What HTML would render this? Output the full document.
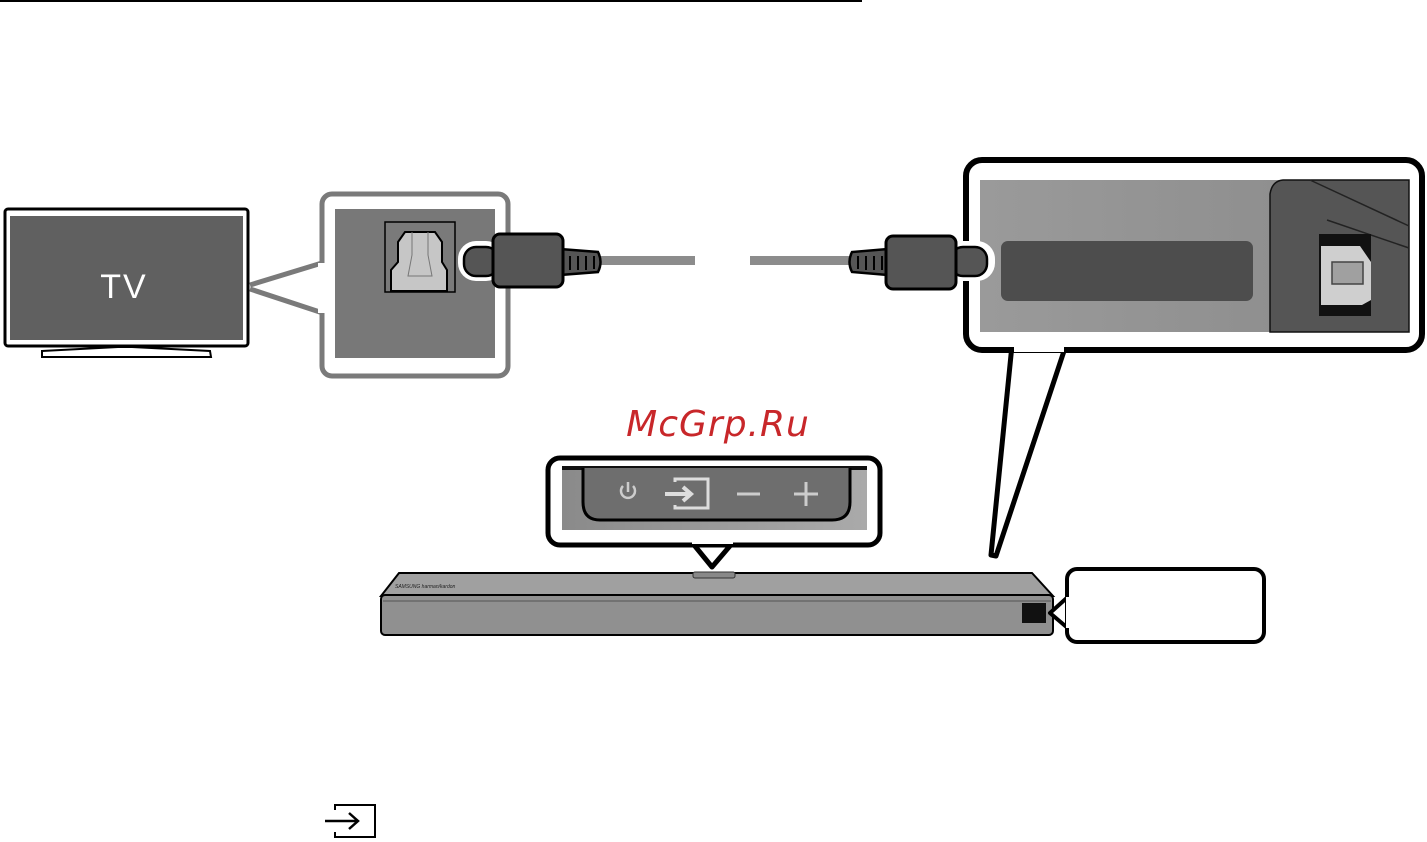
<!DOCTYPE html>
<html><head><meta charset="utf-8"><style>
html,body{margin:0;padding:0;background:#fff;}
svg{display:block;}
</style></head><body>
<svg width="1427" height="842" viewBox="0 0 1427 842" xmlns="http://www.w3.org/2000/svg">
<defs>
<linearGradient id="g2" x1="0" x2="1" y1="0" y2="0">
<stop offset="0" stop-color="#9a9a9a"/><stop offset="1" stop-color="#8a8a8a"/></linearGradient>
<linearGradient id="g3" x1="0" x2="1"><stop offset="0" stop-color="#8a8a8a"/><stop offset="1" stop-color="#aaaaaa"/></linearGradient>
</defs>
<line x1="0" y1="1" x2="862" y2="1" stroke="#000" stroke-width="2"/>

<!-- TV -->
<rect x="5" y="209" width="243" height="137" rx="3" fill="#fff" stroke="#000" stroke-width="3"/>
<rect x="10" y="216" width="233" height="124" fill="#606060"/>
<path d="M42,351 L118,347 L132,347 L210,351 L211,357 L42,357 Z" fill="#fff" stroke="#000" stroke-width="2"/>
<text x="124" y="298" text-anchor="middle" font-family="Liberation Sans, sans-serif" font-size="34" fill="#fff" letter-spacing="2">TV</text>

<!-- callout 1 -->
<path d="M250,287 L335,260 L335,316 Z" fill="#fff"/>
<path d="M250,285 L335,259 M250,289 L335,317" stroke="#7a7a7a" stroke-width="5"/>
<rect x="322" y="194" width="186" height="182" rx="10" fill="#fff" stroke="#7a7a7a" stroke-width="5"/>
<rect x="318" y="263" width="10" height="50" fill="#fff"/>
<rect x="335" y="209" width="160" height="149" fill="#787878"/>
<rect x="385" y="222" width="70" height="70" fill="#7a7a7a" stroke="#000" stroke-width="1.5"/>
<path d="M398,242 L405,232 L435,232 L442,242 L442,262 L447,270 L447,291 L391,291 L391,270 L398,262 Z" fill="#c6c6c6" stroke="#000" stroke-width="2"/>
<path d="M412,232 L412,255 L408,276 L432,276 L428,255 L428,232" fill="none" stroke="#777" stroke-width="1"/>

<!-- left plug -->
<rect x="600" y="256" width="95" height="9" fill="#8c8c8c"/>
<rect x="458" y="241" width="46" height="40" rx="18" fill="#fff"/>
<rect x="464" y="247" width="34" height="29" rx="12" fill="#555" stroke="#000" stroke-width="2.5"/>
<path d="M560,249 L598,252 Q603,262 598,272 L560,275 Z" fill="#555" stroke="#000" stroke-width="2.5"/>
<path d="M570,256 v14 M578,256 v14 M586,256 v14 M594,256 v13" stroke="#000" stroke-width="2"/>
<rect x="493" y="234" width="70" height="53" rx="7" fill="#555" stroke="#000" stroke-width="3"/>

<!-- right callout -->
<path d="M1012,345 L991,555 L996,556 L1066,345 Z" fill="#fff" stroke="#000" stroke-width="5" stroke-linejoin="round"/>
<rect x="966" y="160" width="456" height="190" rx="16" fill="#fff" stroke="#000" stroke-width="6"/>
<rect x="1014" y="340" width="50" height="12" fill="#fff"/>
<rect x="980" y="180" width="429" height="152" fill="url(#g2)"/>
<rect x="1001" y="241" width="252" height="60" rx="7" fill="#4d4d4d"/>
<path d="M1283,180 L1409,180 L1409,332 L1270,332 L1270,194 Q1272,181 1283,180 Z" fill="#555" stroke="#111" stroke-width="1.5"/>
<path d="M1310,180 L1409,226" stroke="#222" stroke-width="1.5"/>
<path d="M1327,220 L1409,248" stroke="#222" stroke-width="1.5"/>
<rect x="1319" y="234" width="52" height="82" fill="#111"/>
<path d="M1321,246 L1360,246 L1371,262 L1371,300 L1362,305 L1321,305 Z" fill="#cfcfcf"/>
<rect x="1332" y="262" width="31" height="22" fill="#a0a0a0" stroke="#444" stroke-width="1.5"/>

<!-- right plug -->
<rect x="750" y="256" width="100" height="9" fill="#8c8c8c"/>
<rect x="945" y="241" width="50" height="40" rx="18" fill="#fff"/>
<rect x="951" y="247" width="36" height="29" rx="12" fill="#555" stroke="#000" stroke-width="2.5"/>
<path d="M888,249 L852,252 Q847,262 852,272 L888,275 Z" fill="#555" stroke="#000" stroke-width="2.5"/>
<path d="M858,256 v13 M866,256 v14 M874,256 v14 M882,256 v14" stroke="#000" stroke-width="2"/>
<rect x="886" y="236" width="70" height="53" rx="7" fill="#555" stroke="#000" stroke-width="3"/>

<!-- watermark -->
<text x="718" y="436" text-anchor="middle" font-family="DejaVu Sans, Liberation Sans, sans-serif" font-style="italic" font-size="36" fill="#c8272a" letter-spacing="1">McGrp.Ru</text>

<!-- callout 3 -->
<path d="M690,540 L712,567 L735,540 Z" fill="#fff" stroke="#000" stroke-width="5" stroke-linejoin="round"/>
<rect x="548" y="458" width="332" height="87" rx="12" fill="#fff" stroke="#000" stroke-width="5"/>
<rect x="692" y="538" width="41" height="6" fill="#fff"/>
<rect x="562" y="466" width="305" height="64" fill="url(#g3)"/>
<rect x="562" y="466" width="305" height="4" fill="#111"/>
<path d="M583,468 L583,502 Q583,520 600,520 L832,520 Q850,520 850,502 L850,468" fill="#6e6e6e" stroke="#000" stroke-width="3"/>
<path d="M623,486 A7,7 0 1 0 633,486" fill="none" stroke="#ccc" stroke-width="2.5"/>
<line x1="628" y1="482" x2="628" y2="492" stroke="#ccc" stroke-width="2.5"/>
<path d="M675,482 L675,479 L708,479 L708,508 L675,508 L675,505" fill="none" stroke="#ddd" stroke-width="3"/>
<path d="M665,494 L690,494 M683,487 L691,494 L683,501" fill="none" stroke="#ddd" stroke-width="4"/>
<line x1="737" y1="494" x2="760" y2="494" stroke="#ccc" stroke-width="3"/>
<path d="M794,494 L818,494 M806,482 L806,506" stroke="#ccc" stroke-width="3"/>

<!-- soundbar -->
<path d="M381,596 L399,573 L1032,573 L1053,596 Z" fill="#a0a0a0" stroke="#000" stroke-width="2"/>
<rect x="381" y="595" width="672" height="40" rx="4" fill="#909090" stroke="#000" stroke-width="2"/>
<line x1="383" y1="601" x2="1051" y2="601" stroke="#555" stroke-width="1"/>
<rect x="693" y="572" width="42" height="6" rx="2" fill="#888" stroke="#333" stroke-width="1"/>
<text x="395" y="588" font-family="Liberation Sans, sans-serif" font-size="5" font-style="italic" fill="#222">SAMSUNG  harman/kardon</text>
<rect x="1022" y="603" width="24" height="20" fill="#111"/>

<!-- callout 4 -->
<path d="M1070,595 L1050,613 L1070,630" fill="#fff" stroke="#000" stroke-width="4" stroke-linejoin="round"/>
<rect x="1067" y="569" width="197" height="73" rx="10" fill="#fff" stroke="#000" stroke-width="4"/>
<rect x="1066" y="597" width="6" height="31" fill="#fff"/>

<!-- bottom input icon -->
<path d="M335,810 L335,805 L375,805 L375,837 L335,837 L335,832" fill="none" stroke="#000" stroke-width="2"/>
<path d="M325,821 L358,821 M349,813 L358,821 L349,829" fill="none" stroke="#000" stroke-width="2.5"/>
</svg>
</body></html>
